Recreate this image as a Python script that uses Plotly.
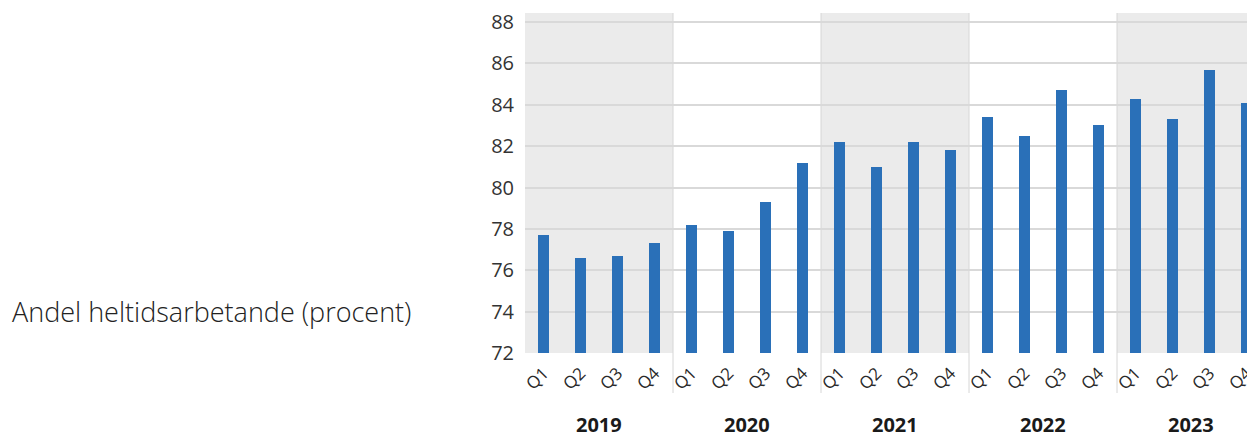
import plotly.graph_objects as go

years = ["2019", "2020", "2021", "2022", "2023"]
quarters = ["Q1", "Q2", "Q3", "Q4"]
values = [
    77.7, 76.6, 76.7, 77.3,
    78.2, 77.9, 79.3, 81.2,
    82.2, 81.0, 82.2, 81.8,
    83.4, 82.5, 84.7, 83.0,
    84.3, 83.3, 85.7, 84.1,
]
y_ticks = [72, 74, 76, 78, 80, 82, 84, 86, 88]
title_text = "Andel heltidsarbetande (procent)"

# page has an 8px body margin; figure coordinates are page coords minus 8
W, H = 1247, 427
ML, MT, MB, MR = 517, 5, 82, 0
pw = W - ML - MR
ph = H - MT - MB
slot = 148.0 / 4  # pixels per quarter

n = len(values)
xpos = list(range(n))
ticktext = [q for _ in years for q in quarters]

fig = go.Figure()
fig.add_trace(go.Bar(
    x=xpos, y=[v - 72 for v in values], base=72,
    width=0.32, marker=dict(color="#2a70b8", line=dict(width=0)),
    hoverinfo="skip",
))

shapes = []
for i, yr in enumerate(years):
    x0 = i * 4 - 0.5
    x1 = x0 + 4
    if i % 2 == 0:
        shapes.append(dict(type="rect", xref="x", yref="paper", x0=x0, x1=x1, y0=0, y1=1,
                           fillcolor="#ebebeb", line=dict(width=0), layer="below"))
    if i > 0:
        shapes.append(dict(type="line", xref="x", yref="paper", x0=x0, x1=x0, y0=-(393 - 353) / ph, y1=1,
                           line=dict(color="#d6d6d6", width=1), layer="below"))

annotations = [
    dict(x=i * 4 + 1.5, y=-(424 - 353) / ph, xref="x", yref="paper", text="<b>%s</b>" % yr,
         showarrow=False, font=dict(size=20, color="#1a1a1a", family="Open Sans"),
         xanchor="center", yanchor="middle")
    for i, yr in enumerate(years)
]
annotations.append(dict(x=(10 - 525) / pw, y=(353 - 311) / ph, xref="paper", yref="paper",
                        text=title_text, showarrow=False, xanchor="left", yanchor="middle",
                        font=dict(size=27, color="#222222", family="Open Sans", weight=300)))

fig.update_layout(
    width=W, height=H,
    margin=dict(l=ML, r=MR, t=MT, b=MB, pad=0),
    paper_bgcolor="white", plot_bgcolor="white",
    showlegend=False, bargap=0,
    shapes=shapes,
    annotations=annotations,
    xaxis=dict(range=[-0.5, -0.5 + pw / slot], tickvals=xpos, ticktext=ticktext,
               tickangle=-45, showgrid=False, zeroline=False, showline=False,
               tickfont=dict(size=17, color="#2a2a2a", family="Open Sans"), ticks="",
               ticklabelstandoff=6, ticklabeloverflow="allow"),
    yaxis=dict(range=[72, 72 + 16 * ph / 331.0], tickvals=y_ticks, showgrid=True, gridcolor="#d9d9d9",
               gridwidth=2, zeroline=False, showline=False, ticks="",
               ticklabelstandoff=10,
               tickfont=dict(size=20, color="#333333", family="Open Sans")),
)

fig.write_html("out.html")
